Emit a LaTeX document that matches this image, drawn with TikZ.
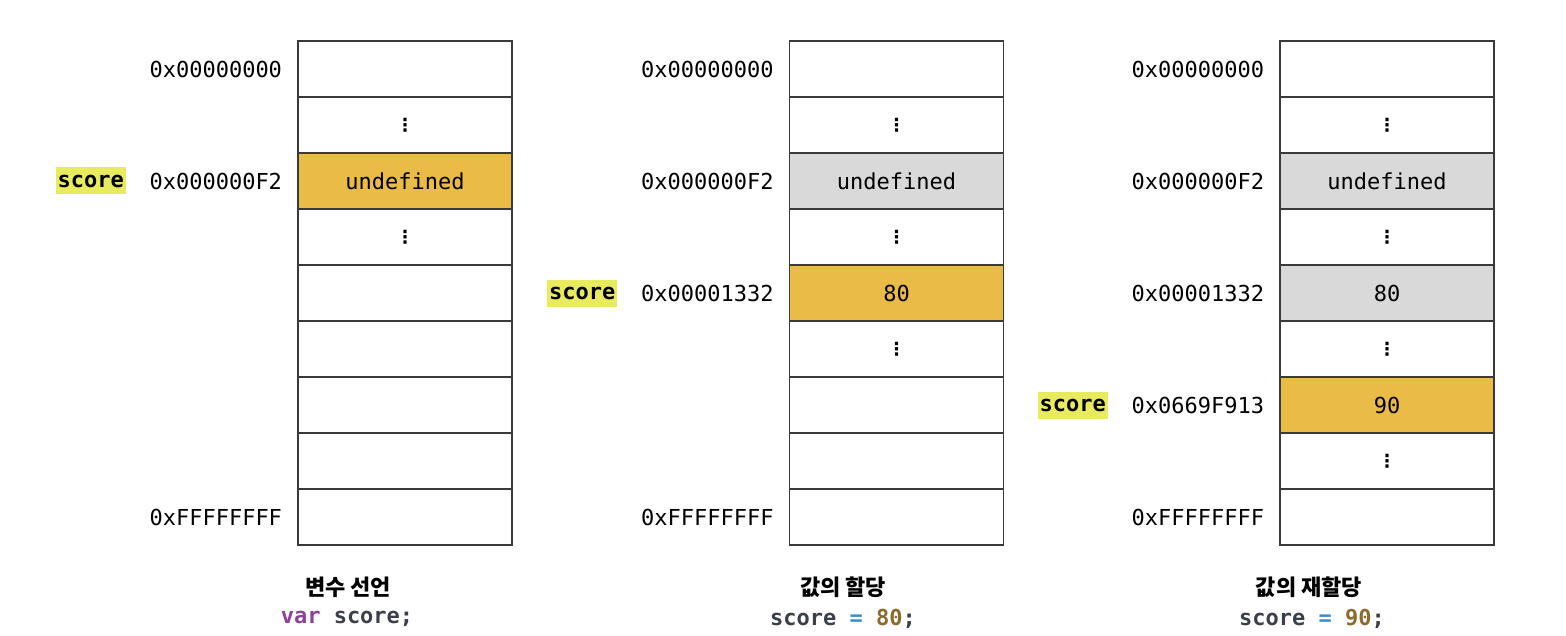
\documentclass[tikz,border=0pt]{standalone}
\usepackage{fontspec}
\setmonofont{DejaVu Sans Mono}
\newfontfamily\krfont{Noto Sans CJK KR}
\newfontfamily\symfont{DejaVu Sans}
\usetikzlibrary{positioning}
\definecolor{cellline}{HTML}{3A3A3A}
\definecolor{valfill}{HTML}{EABC47}
\definecolor{oldfill}{HTML}{D9D9D9}
\definecolor{hlfill}{HTML}{E8EB5E}
\definecolor{kwcolor}{HTML}{8E3F97}
\definecolor{idcolor}{HTML}{3A3F4A}
\definecolor{opcolor}{HTML}{3E8DC8}
\definecolor{numcolor}{HTML}{8C6A2C}
\newcommand{\memdots}{{\symfont\bfseries\fontsize{9}{11}\selectfont ⋮}}

\begin{document}
\begin{tikzpicture}[x=0.5pt,y=-0.5pt,
        cell/.style = {draw=cellline, line width=0.6pt, minimum width=107pt, minimum height=28pt, inner sep=0pt, font=\ttfamily\fontsize{11}{13}\selectfont},
        newval/.style = {cell, fill=valfill},
        oldval/.style = {cell, fill=oldfill},
        addr/.style = {inner sep=0pt, font=\ttfamily\fontsize{11}{13}\selectfont},
        varname/.style = {fill=hlfill, inner xsep=1pt, inner ysep=0pt, minimum height=13.5pt, font=\ttfamily\bfseries\fontsize{11}{13}\selectfont},
        caption/.style = {font=\krfont\bfseries\fontsize{11}{13}\selectfont},
        code/.style = {font=\ttfamily\bfseries\fontsize{11}{13}\selectfont, text=idcolor},]
        \useasboundingbox (0,0) rectangle (1566,636);

        % declaration
        \foreach \i/\st/\txt in {0/cell/{},1/cell/\memdots,2/newval/undefined,3/cell/\memdots,4/cell/{},5/cell/{},6/cell/{},7/cell/{},8/cell/{}}
            \node[\st] (a\i) at (405,{69+56*\i}) {\txt};
        \node[addr, left=7.5pt of a0] (a0addr) {0x00000000};
        \node[addr, left=7.5pt of a2] (a2addr) {0x000000F2};
        \node[addr, left=7.5pt of a8] (a8addr) {0xFFFFFFFF};
        \node[varname, left=11.5pt of a2addr] (a2var) {score};
        \node[caption] (cap1) at (348,587) {변수 선언};
        \node[code] (code1) at (347,619) {\textcolor{kwcolor}{var} score;};

        % assignment
        \foreach \i/\st/\txt in {0/cell/{},1/cell/\memdots,2/oldval/undefined,3/cell/\memdots,4/newval/80,5/cell/\memdots,6/cell/{},7/cell/{},8/cell/{}}
            \node[\st] (b\i) at (896.5,{69+56*\i}) {\txt};
        \node[addr, left=7.5pt of b0] (b0addr) {0x00000000};
        \node[addr, left=7.5pt of b2] (b2addr) {0x000000F2};
        \node[addr, left=7.5pt of b4] (b4addr) {0x00001332};
        \node[addr, left=7.5pt of b8] (b8addr) {0xFFFFFFFF};
        \node[varname, left=11.5pt of b4addr] (b4var) {score};
        \node[caption] (cap2) at (843,587) {값의 할당};
        \node[code] (code2) at (843,619) {score \textcolor{opcolor}{=} \textcolor{numcolor}{80};};

        % reassignment
        \foreach \i/\st/\txt in {0/cell/{},1/cell/\memdots,2/oldval/undefined,3/cell/\memdots,4/oldval/80,5/cell/\memdots,6/newval/90,7/cell/\memdots,8/cell/{}}
            \node[\st] (c\i) at (1387,{69+56*\i}) {\txt};
        \node[addr, left=7.5pt of c0] (c0addr) {0x00000000};
        \node[addr, left=7.5pt of c2] (c2addr) {0x000000F2};
        \node[addr, left=7.5pt of c4] (c4addr) {0x00001332};
        \node[addr, left=7.5pt of c6] (c6addr) {0x0669F913};
        \node[addr, left=7.5pt of c8] (c8addr) {0xFFFFFFFF};
        \node[varname, left=11.5pt of c6addr] (c6var) {score};
        \node[caption] (cap3) at (1309,587) {값의 재할당};
        \node[code] (code3) at (1312,619) {score \textcolor{opcolor}{=} \textcolor{numcolor}{90};};
    \end{tikzpicture}
\end{document}
